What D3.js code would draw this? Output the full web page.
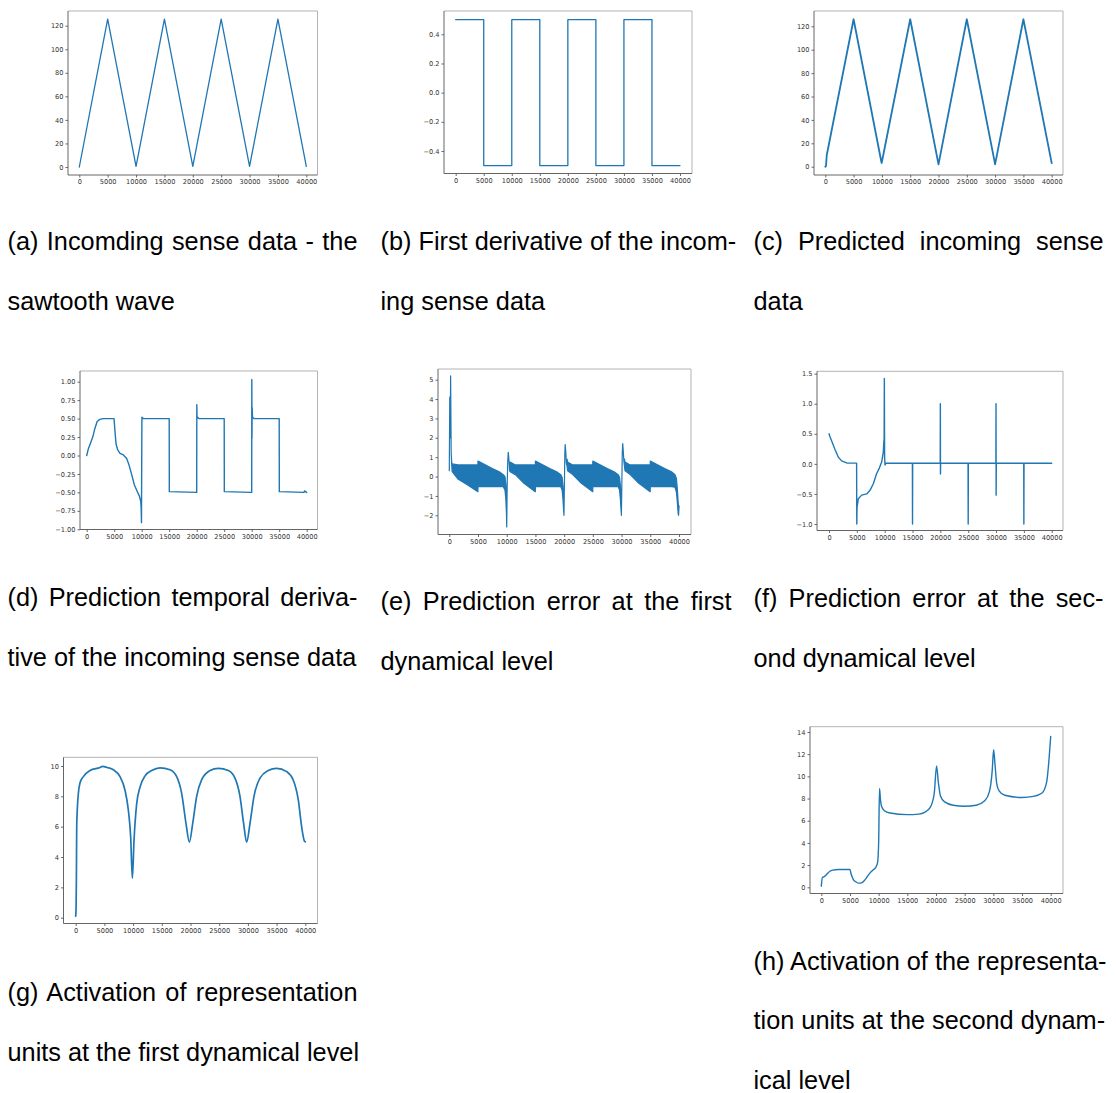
<!DOCTYPE html>
<html><head><meta charset="utf-8">
<script src="https://cdn.jsdelivr.net/npm/d3@7"></script>
<style>body{margin:0;background:#fff}svg{display:block}</style>
</head><body>
<svg id="c" width="1116" height="1093"></svg>
<script>
// ---------- data ----------
const xTickVals = [0,5000,10000,15000,20000,25000,30000,35000,40000];

// (a) incoming sawtooth
const aT = [0,5000,10000,15000,20000,25000,30000,35000,40000];
const aV = [0,125.5,0.5,125.5,0.5,125.5,0.5,125.5,0.5];
const aTicks = [0,20,40,60,80,100,120];

// (b) first derivative (square wave)
const bT = [0,5000,5000,10000,10000,15000,15000,20000,20000,25000,25000,30000,30000,35000,35000,40000];
const bV = [0.5,0.5,-0.5,-0.5,0.5,0.5,-0.5,-0.5,0.5,0.5,-0.5,-0.5,0.5,0.5,-0.5,-0.5];
const bTicks = [-0.4,-0.2,0.0,0.2,0.4];

// (c) predicted incoming sense data
const cT = [0,120,260,5000,9850,9950,10060,15000,19900,20000,20100,25000,29900,30000,30100,35000,40000];
const cV = [0,0.5,10,126,5.5,3.2,5.5,126,4.5,2,4.5,126,4.5,2,4.5,126,3];
const cTicks = [0,20,40,60,80,100,120];

// (d) prediction temporal derivative
const dT = [0,300,600,1100,1500,1900,2400,3000,4970,5150,5330,5640,6060,6670,7270,7700,8180,8670,9210,9580,9820,9900,9960,9990,10040,10300,15000,15020,20000,20020,20060,20120,20400,25000,25020,30000,30020,30050,30080,30150,30400,35000,35020,39500,39600,40000];
const dV = [0,0.09,0.15,0.25,0.37,0.46,0.49,0.5,0.5,0.32,0.16,0.075,0.03,0.007,-0.04,-0.13,-0.26,-0.4,-0.49,-0.55,-0.62,-0.7,-0.91,-0.3,0.52,0.5,0.5,-0.49,-0.5,0.69,0.5,0.52,0.5,0.5,-0.49,-0.5,1.03,0.23,0.65,0.52,0.5,0.5,-0.49,-0.5,-0.48,-0.5];
const dTicks = [-1.0,-0.75,-0.5,-0.25,0,0.25,0.5,0.75,1.0];

// (e) prediction error, first level: dense oscillation band (upper / lower envelope)
const eT  = [0,80,150,230,330,420,500,1500,3000,4980,5000,6000,7500,8700,9400,9700,9850,9950,10000,10080,10180,10270,10380,10500,10600,11500,13000,14980,15000,16000,17500,18700,19400,19650,19800,19900,19970,20050,20120,20180,20280,20380,20500,20600,21500,23000,24980,25000,26000,27500,28700,29400,29650,29800,29900,29970,30050,30120,30200,30300,30400,30500,30600,31500,33000,34980,35000,36000,37500,38700,39300,39550,39700,39850,39920,40000];
const eHi = [0.3,4.1,2.0,5.2,1.2,0.75,0.65,0.6,0.6,0.6,0.8,0.65,0.42,0.25,0.1,0.0,-0.4,-1.4,-2.6,-0.5,0.8,1.25,0.9,0.3,0.75,0.6,0.6,0.6,0.8,0.65,0.42,0.25,0.1,-0.05,-0.5,-1.3,-2.0,-0.3,1.2,1.65,1.3,0.7,0.9,0.75,0.6,0.6,0.6,0.8,0.65,0.42,0.25,0.1,-0.05,-0.5,-1.3,-2.0,-0.3,1.2,1.7,1.3,0.8,0.9,0.75,0.6,0.6,0.6,0.8,0.65,0.42,0.25,0.1,-0.1,-0.6,-1.3,-1.5,-1.5];
const eLo = [0.3,4.1,2.0,5.2,1.2,0.6,0.25,-0.12,-0.4,-0.78,-0.52,-0.52,-0.52,-0.52,-0.52,-0.7,-1.2,-1.9,-2.6,-0.5,0.8,1.25,0.9,0.3,0.25,0.1,-0.35,-0.78,-0.52,-0.52,-0.52,-0.52,-0.52,-0.7,-1.2,-1.7,-2.0,-0.3,1.2,1.65,1.3,0.7,0.55,0.3,0.1,-0.35,-0.78,-0.52,-0.52,-0.52,-0.52,-0.52,-0.7,-1.2,-1.7,-2.0,-0.3,1.2,1.7,1.3,0.8,0.55,0.3,0.1,-0.35,-0.78,-0.52,-0.52,-0.52,-0.52,-0.55,-0.8,-1.3,-1.9,-2.0,-1.6];
const eTicks = [-2,-1,0,1,2,3,4,5];

// (f) prediction error, second level
const fT = [0,180,480,1080,1680,2275,3170,4960,4990,5040,5270,5870,6770,7365,7960,8560,9040,9460,9760,9860,9900,9940,9990,10060,10200,14980,15000,15030,19980,20000,20020,20050,24980,25000,25030,29980,30000,30020,30050,34980,35000,35030,40000];
const fV = [0.5,0.45,0.38,0.24,0.11,0.05,0.015,0.012,-1.0,-0.72,-0.58,-0.52,-0.5,-0.44,-0.33,-0.16,-0.07,0.03,0.2,0.39,0.3,1.42,0.1,-0.02,0.012,0.01,-1.0,0.01,0.01,1.0,-0.17,0.01,0.01,-1.0,0.01,0.01,1.0,-0.52,0.01,0.01,-1.0,0.01,0.01];
const fTicks = [-1.0,-0.5,0.0,0.5,1.0,1.5];

// (g) activation, first level
const gT = [0,60,120,174,300,464,755,1335,2500,4240,4700,5500,6560,7720,8590,9170,9580,9870,10160,10620,11200,12080,13240,14690,16430,17590,18460,19220,19800,20380,21075,21950,23400,24850,26590,27750,28620,29260,29780,30360,31060,32100,33550,35000,36750,37900,38780,39360,39830,40000];
const gV = [0.1,0.5,2.5,6.0,7.3,8.2,8.9,9.3,9.7,9.9,9.98,9.9,9.75,9.3,8.4,7.1,5.3,2.6,5.1,7.5,8.6,9.35,9.7,9.88,9.75,9.3,8.2,6.2,4.98,6.2,8.0,9.1,9.7,9.85,9.7,9.2,8.0,6.2,4.98,6.2,8.0,9.2,9.7,9.85,9.63,9.08,7.76,6.0,5.07,5.0];
const gTicks = [0,2,4,6,8,10];

// (h) activation, second level
const hT = [0,200,500,1000,1500,2000,3000,5000,5200,5600,6000,6500,7000,7500,8000,8500,9000,9500,9800,10000,10150,10300,10500,11000,12000,15000,17000,18000,19000,19700,20100,20400,20800,21500,23000,25000,27000,28500,29300,29800,30050,30300,30600,31000,32000,35000,37000,38500,39300,39700,40000];
const hV = [0.1,0.9,0.95,1.2,1.45,1.55,1.6,1.6,1.2,0.7,0.5,0.38,0.4,0.6,0.95,1.3,1.55,1.8,2.2,4.0,8.9,8.0,7.3,6.9,6.7,6.55,6.6,6.75,7.2,8.5,10.95,9.5,8.2,7.7,7.4,7.3,7.4,7.8,8.6,10.5,12.4,11.0,9.3,8.7,8.3,8.1,8.2,8.5,9.5,11.5,13.6];
const hTicks = [0,2,4,6,8,10,12,14];

// captions
const capA = ["(a) Incomding sense data - the", "sawtooth wave"];
const capB = ["(b) First derivative of the incom-", "ing sense data"];
const capC = ["(c) Predicted incoming sense", "data"];
const capD = ["(d) Prediction temporal deriva-", "tive of the incoming sense data"];
const capE = ["(e) Prediction error at the first", "dynamical level"];
const capF = ["(f) Prediction error at the sec-", "ond dynamical level"];
const capG = ["(g) Activation of representation", "units at the first dynamical level"];
const capH = ["(h) Activation of the representa-", "tion units at the second dynam-", "ical level"];

// ---------- drawing ----------
const BLUE = '#1f77b4';
const svg = d3.select('#c');
const minus = f => v => f(v).replace('-', '\u2212');
const zip = (t, v) => t.map((d, i) => [d, v[i]]);

function panel(spec) {
  const [x0, y0, x1, y1] = spec.frame;
  const x = d3.scaleLinear().domain([0, 40000]).range(spec.xpx);
  const y = d3.scaleLinear().domain([spec.yref[0], spec.yref[2]]).range([spec.yref[1], spec.yref[3]]);
  const g = svg.append('g');
  const clipId = 'clip' + Math.round(x0) + '_' + Math.round(y0);
  g.append('clipPath').attr('id', clipId).append('rect')
    .attr('x', x0).attr('y', y0).attr('width', x1 - x0).attr('height', y1 - y0);
  const plot = g.append('g').attr('clip-path', `url(#${clipId})`);

  const ax = g.append('g').attr('transform', `translate(0,${y1})`)
    .call(d3.axisBottom(x).tickValues(xTickVals).tickSize(2.5).tickPadding(2).tickFormat(d3.format('d')));
  const ay = g.append('g').attr('transform', `translate(${x0},0)`)
    .call(d3.axisLeft(y).tickValues(spec.yTicks).tickSize(2.5).tickPadding(2).tickFormat(minus(d3.format(spec.yFmt))));
  [ax, ay].forEach(a => {
    a.select('.domain').remove();
    a.attr('font-family', 'DejaVu Sans').attr('font-size', 6.6);
    a.selectAll('text').attr('fill', '#333');
    a.selectAll('line').attr('stroke', '#444').attr('stroke-width', 0.8);
  });
  // frame
  g.append('line').attr('x1', x0).attr('x2', x1).attr('y1', y0).attr('y2', y0).attr('stroke', '#aaa').attr('stroke-width', 0.9);
  g.append('line').attr('x1', x1).attr('x2', x1).attr('y1', y0).attr('y2', y1).attr('stroke', '#aaa').attr('stroke-width', 0.9);
  g.append('line').attr('x1', x0).attr('x2', x0).attr('y1', y0).attr('y2', y1).attr('stroke', '#555').attr('stroke-width', 0.9);
  g.append('line').attr('x1', x0).attr('x2', x1).attr('y1', y1).attr('y2', y1).attr('stroke', '#555').attr('stroke-width', 0.9);
  return { x, y, plot };
}

function drawLine(p, t, v, width, curve) {
  p.plot.append('path').datum(zip(t, v))
    .attr('fill', 'none').attr('stroke', BLUE).attr('stroke-width', width)
    .attr('stroke-linejoin', 'round').attr('stroke-linecap', 'round')
    .attr('d', d3.line().x(d => p.x(d[0])).y(d => p.y(d[1])).curve(curve || d3.curveLinear));
}

// (a)
const pa = panel({ frame: [68, 11, 317.5, 175], xpx: [79.3, 306.3], yref: [0, 167, 120, 25.7], yTicks: aTicks, yFmt: 'd' });
drawLine(pa, aT, aV, 1.3);
// (b)
const pb = panel({ frame: [444, 11, 692, 173.5], xpx: [455.7, 680], yref: [0.4, 34.3, -0.4, 151], yTicks: bTicks, yFmt: '.1f' });
drawLine(pb, bT, bV, 1.3);
// (c)
const pc = panel({ frame: [814, 11, 1063, 175], xpx: [825.3, 1051.7], yref: [0, 166.7, 120, 26.3], yTicks: cTicks, yFmt: 'd' });
drawLine(pc, cT, cV, 1.8);
// (d)
const pd = panel({ frame: [80, 371, 317.5, 529.5], xpx: [86.7, 306.7], yref: [1, 381.7, -1, 529.3], yTicks: dTicks, yFmt: '.2f' });
drawLine(pd, dT, dV, 1.4);
// (e)
const pe = panel({ frame: [438, 369, 691, 534.5], xpx: [449.3, 679], yref: [5, 379.7, -2, 515.3], yTicks: eTicks, yFmt: 'd' });
pe.plot.append('path').datum(eT.map((t, i) => [t, eHi[i], eLo[i]]))
  .attr('fill', BLUE).attr('stroke', BLUE).attr('stroke-width', 1.2).attr('stroke-linejoin', 'round')
  .attr('d', d3.area().x(d => pe.x(d[0])).y0(d => pe.y(d[2])).y1(d => pe.y(d[1])));
// (f)
const pf = panel({ frame: [817, 371.3, 1063, 530.5], xpx: [829, 1051.7], yref: [1.5, 373.7, -1, 524], yTicks: fTicks, yFmt: '.1f' });
drawLine(pf, fT, fV, 1.4);
// (g)
const pg = panel({ frame: [63.5, 757.3, 317.5, 923.5], xpx: [75.7, 305.3], yref: [10, 766, 0, 917.7], yTicks: gTicks, yFmt: 'd' });
drawLine(pg, gT, gV, 1.7, d3.curveMonotoneX);
// (h)
const ph = panel({ frame: [810, 726.7, 1063, 893.5], xpx: [821.3, 1050.7], yref: [14, 732, 0, 887.3], yTicks: hTicks, yFmt: 'd' });
drawLine(ph, hT, hV, 1.4, d3.curveMonotoneX);

// captions (justified like the source document)
function caption(lines, x, baseline, width) {
  const lh = 59.5;
  lines.forEach((s, i) => {
    const t = svg.append('text').attr('x', x).attr('y', baseline + i * lh)
      .attr('font-family', 'Liberation Sans, Arial, Helvetica, sans-serif')
      .attr('font-size', 25.3).attr('fill', '#000').text(s);
    if (i < lines.length - 1) {
      const len = t.node().getComputedTextLength();
      const spaces = (s.match(/ /g) || []).length;
      if (spaces > 0 && len < width) t.attr('word-spacing', (width - len) / spaces);
    }
  });
}
caption(capA, 7.5, 250, 350);
caption(capB, 380.5, 250, 351);
caption(capC, 753.5, 250, 350);
caption(capD, 7.5, 606, 350);
caption(capE, 380.5, 610, 351);
caption(capF, 753.5, 607, 350);
caption(capG, 7.5, 1001, 350);
caption(capH, 753.5, 969.5, 350);
</script>
</body></html>
